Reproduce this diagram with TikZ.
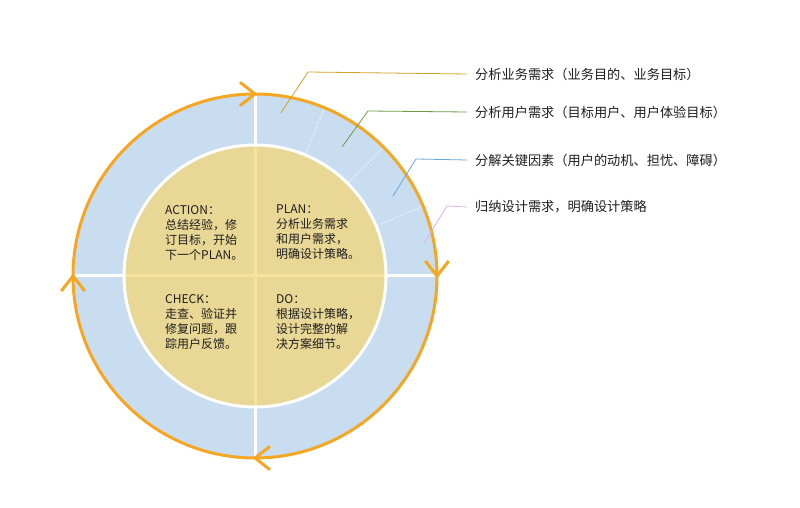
\documentclass[tikz,border=0pt]{standalone}
\usepackage{fontspec}
\setmainfont{Noto Sans CJK SC}
\definecolor{ringorange}{HTML}{F5A623}
\definecolor{ringblue}{HTML}{C9DDF0}
\definecolor{coreyellow}{HTML}{E9D795}
\definecolor{paleyellow}{HTML}{F7E39C}
\definecolor{goldline}{HTML}{D4A22A}
\definecolor{greenline}{HTML}{6E9A48}
\definecolor{blueline}{HTML}{6AA6DA}
\definecolor{violetline}{HTML}{DDB0F0}
\definecolor{textgray}{HTML}{1E1E1E}

\begin{document}
\begin{tikzpicture}[x=1pt,y=1pt]
  \tikzstyle{orangeline}=[draw=ringorange,line width=3pt]
  \tikzstyle{leader}=[line width=0.8pt]
  \tikzstyle{lbl}=[anchor=west,inner sep=0pt,text=textgray,font=\fontsize{13.2}{15}\selectfont]
  \tikzstyle{quad}=[anchor=north west,inner sep=0pt,align=left,text=textgray,font=\fontsize{12}{15}\selectfont]
  \useasboundingbox (-255,-232) rectangle (545,276);

  % ring and core
  \fill[ringblue] (0,0) circle (182);
  \fill[coreyellow] (0,0) circle (131);
  \draw[paleyellow,line width=3pt] (-131,0) -- (131,0) (0,-131) -- (0,131);
  \draw[white,line width=3pt] (0,0) circle (131);
  \foreach \a in {0,90,180,270}
    \draw[white,line width=3pt] (\a:132) -- (\a:181);
  \foreach \a in {22.5,45,67.5}
    \draw[white,line width=1pt,dotted] (\a:133) -- (\a:180);

  % cycle with chevrons
  \draw[orangeline] (0,0) circle (182);
  \foreach \a in {90,0,-90,180}
    \draw[orangeline] (\a:182) ++(\a+52:19) -- (\a:182) -- ++(\a+128:19);

  % quadrant texts
  \node[quad] (action) at (-90,71) {ACTION：\\总结经验，修\\订目标，开始\\下一个PLAN。};
  \node[quad] (plan) at (21,71) {PLAN：\\分析业务需求\\和用户需求，\\明确设计策略。};
  \node[quad] (check) at (-90,-18) {CHECK：\\走查、验证并\\修复问题，跟\\踪用户反馈。};
  \node[quad] (do) at (21,-18) {DO：\\根据设计策略，\\设计完整的解\\决方案细节。};

  % leaders
  \node[lbl] (need1) at (220,202) {分析业务需求（业务目的、业务目标）};
  \node[lbl] (need2) at (220,164) {分析用户需求（目标用户、用户体验目标）};
  \node[lbl] (need3) at (220,116) {分解关键因素（用户的动机、担忧、障碍）};
  \node[lbl] (need4) at (220,69) {归纳设计需求，明确设计策略};
  \coordinate (p1) at (81:165);
  \coordinate (p2) at (56:156);
  \coordinate (p3) at (30:159);
  \coordinate (p4) at (11:172);
  \draw[leader,goldline] (p1) -- (53,204) -- ([xshift=-8pt]need1.west);
  \draw[leader,greenline] (p2) -- (113,165) -- ([xshift=-8pt]need2.west);
  \draw[leader,blueline] (p3) -- (161,117) -- ([xshift=-8pt]need3.west);
  \draw[leader,violetline] (p4) -- (192,70) -- ([xshift=-8pt]need4.west);
\end{tikzpicture}
\end{document}
